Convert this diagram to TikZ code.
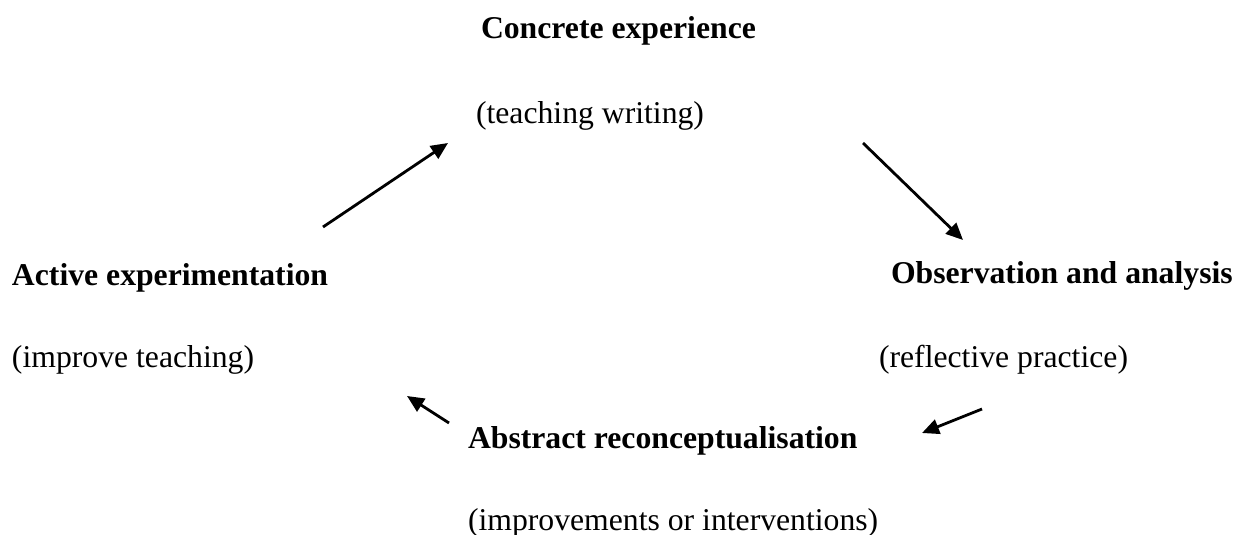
\documentclass[tikz,border=0pt]{standalone}
\usepackage{fontspec}
\setmainfont{Liberation Serif}
\usetikzlibrary{arrows.meta}
\begin{document}
\begin{tikzpicture}[x=1pt,y=-1pt,
  lbl/.style={anchor=base west,inner sep=0pt,outer sep=0pt,font=\fontsize{31.7}{38}\selectfont},
  ttl/.style={lbl,font=\fontsize{31.7}{38}\selectfont\bfseries},
  arr/.style={line width=2.8pt,-{Triangle[length=17pt,width=15pt]}}]
\useasboundingbox (0,0) rectangle (1237,535);
\node[ttl] (ce) at (481,39) {Concrete experience};
\node[lbl] (tw) at (476,123) {(teaching writing)};
\node[ttl] (ae) at (12,285) {Active experimentation};
\node[lbl] (it) at (12,367) {(improve teaching)};
\node[ttl] (oa) at (891,283) {Observation and analysis};
\node[lbl] (rp) at (879,367) {(reflective practice)};
\node[ttl] (ar) at (468,448) {Abstract reconceptualisation};
\node[lbl] (ii) at (468,530) {(improvements or interventions)};
\coordinate (a1s) at (323,227);
\coordinate (a1e) at (448,143);
\coordinate (a2s) at (863,143);
\coordinate (a2e) at (963,240);
\coordinate (a3s) at (449,423);
\coordinate (a3e) at (407,396);
\coordinate (a4s) at (982,409);
\coordinate (a4e) at (922,433);
\draw[arr] (a1s) -- (a1e);
\draw[arr] (a2s) -- (a2e);
\draw[arr] (a3s) -- (a3e);
\draw[arr] (a4s) -- (a4e);
\end{tikzpicture}
\end{document}
